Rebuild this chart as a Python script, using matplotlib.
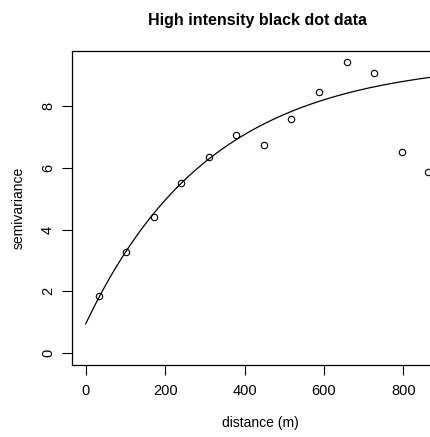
import numpy as np
import matplotlib
matplotlib.use('Agg')
import matplotlib.pyplot as plt

plt.rcParams['font.family'] = ['Liberation Sans', 'DejaVu Sans']

# empirical semivariogram: lag distance (m) and semivariance
lag_dist = [34, 102, 171, 241, 310, 379, 448, 517, 588, 657, 726, 796, 863]
gamma = [1.85, 3.26, 4.41, 5.51, 6.34, 7.06, 6.74, 7.58, 8.43, 9.40, 9.06, 6.50, 5.86]

# fitted exponential model
nugget = 0.95
psill = 8.51
model_range = 315.0

x_ticks = [0, 200, 400, 600, 800]
y_ticks = [0, 2, 4, 6, 8]

W, H = 430, 437
fig = plt.figure(figsize=(W / 100, H / 100), dpi=100)
left, right, top, bottom = 71.7, 449.8, 51, 365
ax = fig.add_axes([left / W, (H - bottom) / H, (right - left) / W, (bottom - top) / H])

h = np.linspace(0, 917, 300)
ax.plot(h, nugget + psill * (1 - np.exp(-h / model_range)), color='black', lw=0.9)
ax.plot(lag_dist, gamma, 'o', mfc='none', mec='black', ms=4.6, mew=0.8)

ax.set_xlim(-35.3, 917)
ax.set_ylim(-0.38, 9.77)
ax.set_xticks(x_ticks)
ax.set_yticks(y_ticks)
ax.tick_params(direction='out', length=7, width=0.8, labelsize=10.5)
ax.tick_params(axis='x', pad=7)
ax.tick_params(axis='y', pad=5)
for lbl in ax.get_yticklabels():
    lbl.set_rotation(90)
    lbl.set_va('center')
for s in ax.spines.values():
    s.set_linewidth(0.9)

ax.set_xlabel('distance (m)', fontsize=10, labelpad=13)
ax.set_ylabel('semivariance', fontsize=10, labelpad=11)
fig.text(257.7 / W, 1 - 20.7 / H, 'High intensity black dot data',
         ha='center', va='center', fontsize=11.5, fontweight='bold')

fig.savefig('out.png', dpi=100)
